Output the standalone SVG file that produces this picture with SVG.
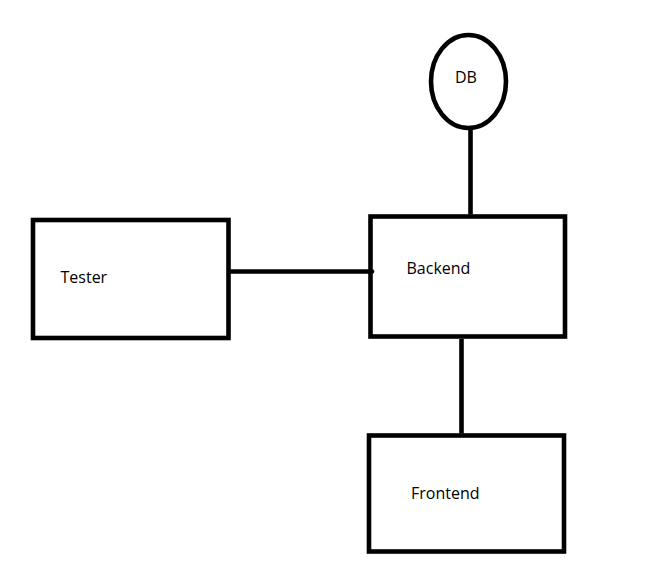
<svg xmlns="http://www.w3.org/2000/svg" width="655" height="571" viewBox="0 0 655 571">
<style>
.box{fill:#fff;stroke:#000;stroke-width:4.6}
.lbl{font-family:"Open Sans","Noto Sans",sans-serif;font-size:16px;fill:#000}
.conn line{stroke:#000;stroke-width:4.6}
</style>
<rect width="655" height="571" fill="#fff"/>
<g id="db">
<ellipse class="box" cx="468.5" cy="81.5" rx="37.5" ry="46.5"/>
<text class="lbl" x="455" y="83">DB</text>
</g>
<g id="tester">
<rect class="box" x="33" y="220" width="195.5" height="118"/>
<text class="lbl" x="60.5" y="282.5">Tester</text>
</g>
<g id="backend">
<rect class="box" x="370.5" y="216.5" width="194.5" height="120"/>
<text class="lbl" x="406.5" y="273.5">Backend</text>
</g>
<g id="frontend">
<rect class="box" x="369" y="435.5" width="195" height="116"/>
<text class="lbl" x="411" y="499">Frontend</text>
</g>
<g id="connectors" class="conn">
<line x1="470.5" y1="130" x2="470.5" y2="214.5"/>
<line x1="231" y1="271.5" x2="372" y2="271.5" stroke-linecap="round"/>
<line x1="461.5" y1="339" x2="461.5" y2="433.5"/>
</g>
</svg>
